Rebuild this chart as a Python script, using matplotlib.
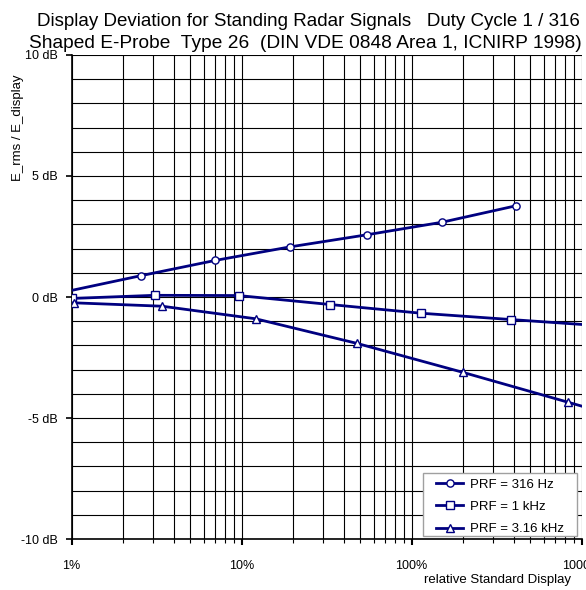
import numpy as np
import matplotlib
matplotlib.use("Agg")
import matplotlib.pyplot as plt
from matplotlib.patches import Rectangle
from matplotlib.ticker import FixedLocator, NullFormatter

plt.rcParams['font.family'] = ['Liberation Sans', 'DejaVu Sans']

# relative display (%) and deviation (dB) for each pulse repetition frequency
x_316 = [0.95, 2.55, 6.97, 19.2, 54.4, 151, 411]
y_316 = [0.24, 0.88, 1.51, 2.07, 2.57, 3.09, 3.77]

x_1k = [1.0, 3.08, 9.6, 33.1, 113.5, 382, 1300]
y_1k = [-0.06, 0.07, 0.06, -0.31, -0.67, -0.93, -1.19]

x_3k = [1.03, 3.4, 12.1, 47.9, 199.5, 834, 3500]
y_3k = [-0.24, -0.38, -0.90, -1.92, -3.11, -4.35, -5.6]

series = [
    (x_316, y_316, 'o', 'PRF = 316 Hz', slice(1, 7)),
    (x_1k, y_1k, 's', 'PRF = 1 kHz', slice(0, 6)),
    (x_3k, y_3k, '^', 'PRF = 3.16 kHz', slice(0, 6)),
]

ytick_vals = [-10, -5, 0, 5, 10]
ytick_text = ['-10 dB', '-5 dB', '0 dB', '5 dB', '10 dB']
xtick_vals = [1, 10, 100, 1000]
xtick_text = ['1%', '10%', '100%', '1000%']

navy = '#000080'

fig = plt.figure(figsize=(5.86, 5.90), dpi=100)
ax = fig.add_axes([0.1223, 0.0864, 0.8703, 0.8204])

for xs, ys, mk, lab, every in series:
    ax.plot(xs, ys, color=navy, lw=2.0, marker=mk, markersize=5.2,
            markerfacecolor='white', markeredgecolor=navy, markeredgewidth=1.0,
            markevery=every, label=lab, zorder=3)

ax.set_xscale('log')
ax.set_xlim(1, 1000)
ax.set_ylim(-10, 10)

ax.xaxis.set_major_locator(FixedLocator(xtick_vals))
ax.set_xticklabels(xtick_text)
minors = [m * d for d in [1, 10, 100] for m in range(2, 10)]
ax.xaxis.set_minor_locator(FixedLocator(minors))
ax.xaxis.set_minor_formatter(NullFormatter())

ax.set_yticks(ytick_vals)
ax.set_yticklabels(ytick_text)
ax.yaxis.set_minor_locator(FixedLocator(np.arange(-10, 11, 1)))

ax.grid(True, which='both', color='black', lw=0.8)
ax.set_axisbelow(True)

for side in ['top', 'right']:
    ax.spines[side].set_visible(False)
ax.spines['left'].set_linewidth(1.2)
ax.spines['bottom'].set_linewidth(1.2)

ax.tick_params(axis='x', which='major', direction='out', length=4, width=1.5,
               labelsize=9, pad=11)
ax.tick_params(axis='x', which='minor', direction='out', length=3, width=0.8)
ax.tick_params(axis='y', which='major', direction='out', length=4, width=1.2,
               labelsize=9, pad=6)
ax.tick_params(axis='y', which='minor', length=0)

# legend box drawn separately so its padding can be wider than tall
ax.add_patch(Rectangle((0.689, 0.0062), 0.302, 0.130, transform=ax.transAxes,
                       facecolor='white', edgecolor='#a0a0a0', lw=1.0, zorder=4))
leg = ax.legend(loc='upper left', bbox_to_anchor=(0.7137, 0.125), borderaxespad=0,
                fontsize=9.5, frameon=False, handlelength=2.1, handletextpad=0.5,
                labelspacing=0.76, borderpad=0)
leg.set_zorder(5)

fig.text(0.527, 1 - 21.5 / 590, 'Display Deviation for Standing Radar Signals   Duty Cycle 1 / 316',
         ha='center', va='center', fontsize=13.5)
fig.text(0.521, 1 - 44 / 590, 'Shaped E-Probe  Type 26  (DIN VDE 0848 Area 1, ICNIRP 1998)',
         ha='center', va='center', fontsize=13.75)
fig.text(18 / 586, 1 - 128 / 590, 'E_rms / E_display', rotation=90,
         ha='center', va='center', fontsize=9.5)
fig.text(497 / 586, 1 - 580.5 / 590, 'relative Standard Display',
         ha='center', va='center', fontsize=9.5)

fig.savefig('out.png', dpi=100)
